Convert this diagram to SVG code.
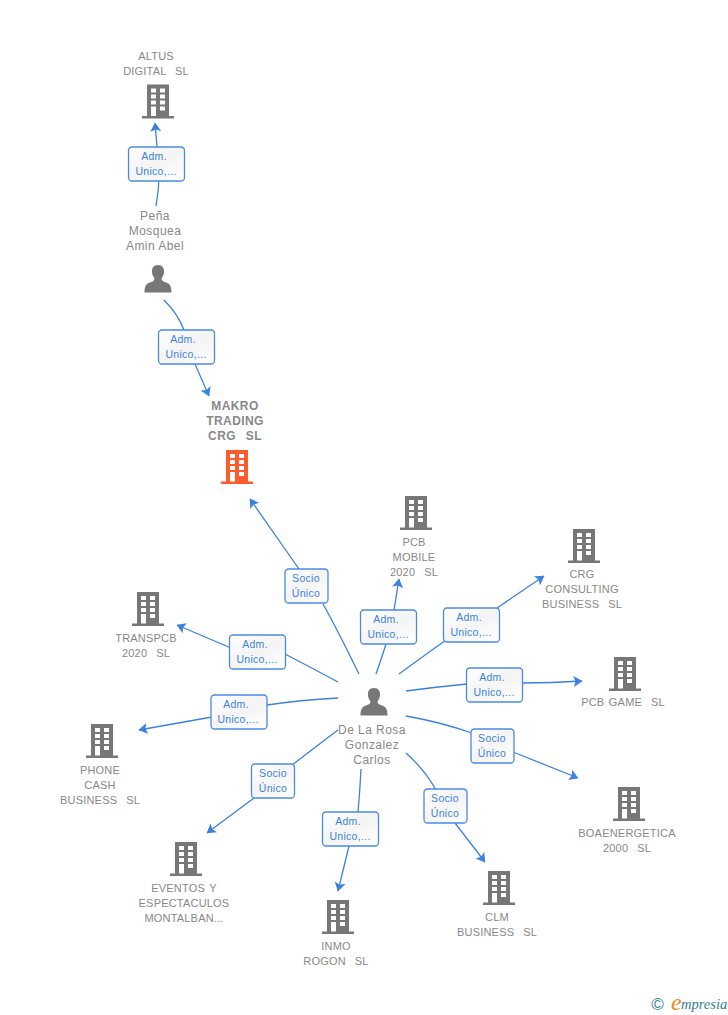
<svg xmlns="http://www.w3.org/2000/svg" width="728" height="1015" viewBox="0 0 728 1015">
<style>
text{font-family:"Liberation Sans",Arial,sans-serif;white-space:pre}
.n{font-size:11px;fill:#888;text-anchor:middle;letter-spacing:.2px;word-spacing:1.200px}
.p{font-size:12px;letter-spacing:.45px;word-spacing:0}
.b{font-weight:bold;font-size:12px;letter-spacing:.4px}
.l{font-size:10.500px;fill:#3b82e0;text-anchor:middle;letter-spacing:.3px}
.e{fill:none;stroke:#3b82e0;stroke-width:1.300}
.box{fill:url(#g);stroke:#4a8ae0;stroke-width:1.300}
</style>
<defs>
<linearGradient id="g" x1="0" y1="0" x2="1" y2="1"><stop offset="0" stop-color="#fff"/><stop offset=".5" stop-color="#f4f4f4"/><stop offset="1" stop-color="#fff"/></linearGradient>
<marker id="a" viewBox="0 0 9 11" refX="8.500" refY="5.500" markerWidth="9" markerHeight="11" markerUnits="userSpaceOnUse" orient="auto"><path d="M0 0L9 5.500L0 11L2 5.500Z" fill="#3b82e0"/></marker>
<g id="bld"><path fill-rule="evenodd" d="M-11-17H11V14.500H16V17H-16V14.500H-11ZM-7-13V-9H-2V-13ZM2-13V-9H7V-13ZM-7-7V-3H-2V-7ZM2-7V-3H7V-7ZM-7-1V3H-2V-1ZM2-1V3H7V-1ZM-7 5V14.500H-2V5ZM2 5V9H7V5Z"/></g>
<g id="per"><path d="M0-14C4.500-14 6.500-10.500 6-6.500C5.700-3.500 4.500-2 3.500-0.500C3.500 1.500 5 2.500 8 3.500C12 5 13.500 7 13.500 13.500H-13.500C-13.500 7-12 5-8 3.500C-5 2.500-3.500 1.500-3.500-0.500C-4.500-2-5.700-3.500-6-6.500C-6.500-10.500-4.500-14 0-14Z"/></g>
</defs>
<g id="connectors">
<path class="e" d="M156 206Q159 190 159 175" />
<path class="e" d="M157 147L155 123" marker-end="url(#a)"/>
<path class="e" d="M164 300Q178 314 184 330"/>
<path class="e" d="M195 364L209 396" marker-end="url(#a)"/>
<path class="e" d="M359 674Q335 625 323 604"/>
<path class="e" d="M299 569L250 499" marker-end="url(#a)"/>
<path class="e" d="M376 674Q381 660 386 644"/>
<path class="e" d="M394 610L399 579" marker-end="url(#a)"/>
<path class="e" d="M399 674Q425 655 446 640"/>
<path class="e" d="M497 608L544 576" marker-end="url(#a)"/>
<path class="e" d="M406 691Q436 687 467 684"/>
<path class="e" d="M522 683Q552 683 582 681" marker-end="url(#a)"/>
<path class="e" d="M406 716Q440 722 472 733"/>
<path class="e" d="M513 752L578 778" marker-end="url(#a)"/>
<path class="e" d="M406 753Q425 770 436 790"/>
<path class="e" d="M455 823L485 862" marker-end="url(#a)"/>
<path class="e" d="M361 769Q360 790 358 812"/>
<path class="e" d="M349 846L338 891" marker-end="url(#a)"/>
<path class="e" d="M338 730Q305 755 283 772"/>
<path class="e" d="M254 798L207 833" marker-end="url(#a)"/>
<path class="e" d="M338 698Q300 700 267 705"/>
<path class="e" d="M212 717L139 730" marker-end="url(#a)"/>
<path class="e" d="M338 682Q312 668 285 654"/>
<path class="e" d="M231 648L177 625" marker-end="url(#a)"/>
</g>
<g id="n1" fill="#777"><use href="#bld" x="158" y="101.500"/><text class="n" x="156" y="60">ALTUS</text><text class="n" x="156" y="75">DIGITAL  SL</text></g>
<g id="n2" fill="#777"><use href="#per" x="158" y="279"/><text class="n p" x="155" y="220">Peña</text><text class="n p" x="155" y="235">Mosquea</text><text class="n p" x="155" y="250">Amin Abel</text></g>
<g id="n3" fill="#ff5c2e"><use href="#bld" x="237" y="467"/><text class="n b" x="235" y="410">MAKRO</text><text class="n b" x="235" y="425">TRADING</text><text class="n b" x="235" y="440">CRG  SL</text></g>
<g id="n4" fill="#777"><use href="#bld" x="416" y="513"/><text class="n" x="414" y="546">PCB</text><text class="n" x="414" y="561">MOBILE</text><text class="n" x="414" y="576">2020  SL</text></g>
<g id="n5" fill="#777"><use href="#bld" x="584" y="546"/><text class="n" x="582" y="578">CRG</text><text class="n" x="582" y="593">CONSULTING</text><text class="n" x="582" y="608">BUSINESS  SL</text></g>
<g id="n6" fill="#777"><use href="#bld" x="625" y="674"/><text class="n" x="623" y="706">PCB GAME  SL</text></g>
<g id="n7" fill="#777"><use href="#bld" x="629" y="804"/><text class="n" x="627" y="837">BOAENERGETICA</text><text class="n" x="627" y="852">2000  SL</text></g>
<g id="n8" fill="#777"><use href="#bld" x="499" y="888"/><text class="n" x="497" y="921">CLM</text><text class="n" x="497" y="936">BUSINESS  SL</text></g>
<g id="n9" fill="#777"><use href="#bld" x="338" y="917"/><text class="n" x="336" y="950">INMO</text><text class="n" x="336" y="965">ROGON  SL</text></g>
<g id="n10" fill="#777"><use href="#bld" x="186" y="859"/><text class="n" x="184" y="892">EVENTOS Y</text><text class="n" x="184" y="907">ESPECTACULOS</text><text class="n" x="184" y="922">MONTALBAN...</text></g>
<g id="n11" fill="#777"><use href="#bld" x="102" y="741"/><text class="n" x="100" y="774">PHONE</text><text class="n" x="100" y="789">CASH</text><text class="n" x="100" y="804">BUSINESS  SL</text></g>
<g id="n12" fill="#777"><use href="#bld" x="148" y="609"/><text class="n" x="146" y="642">TRANSPCB</text><text class="n" x="146" y="657">2020  SL</text></g>
<g id="n13" fill="#777"><use href="#per" x="374" y="702"/><text class="n p" x="372" y="734">De La Rosa</text><text class="n p" x="372" y="749">Gonzalez</text><text class="n p" x="372" y="764">Carlos</text></g>
<g id="labels">
<g id="l1"><rect class="box" x="128.500" y="147" width="56" height="34" rx="3.500"/><text class="l" x="154" y="160">Adm.</text><text class="l" x="156" y="175">Unico,...</text></g>
<g id="l2"><rect class="box" x="158.500" y="330" width="56" height="34" rx="3.500"/><text class="l" x="183" y="343">Adm.</text><text class="l" x="186" y="358">Unico,...</text></g>
<g id="l3"><rect class="box" x="285" y="569" width="43" height="34" rx="3.500"/><text class="l" x="306" y="582">Socio</text><text class="l" x="306" y="597">Único</text></g>
<g id="l4"><rect class="box" x="360.500" y="610" width="56" height="34" rx="3.500"/><text class="l" x="386" y="623">Adm.</text><text class="l" x="388" y="638">Unico,...</text></g>
<g id="l5"><rect class="box" x="443.500" y="608" width="56" height="34" rx="3.500"/><text class="l" x="469" y="621">Adm.</text><text class="l" x="471" y="636">Unico,...</text></g>
<g id="l6"><rect class="box" x="466.500" y="668" width="56" height="34" rx="3.500"/><text class="l" x="492" y="681">Adm.</text><text class="l" x="494" y="696">Unico,...</text></g>
<g id="l7"><rect class="box" x="471" y="729" width="43" height="34" rx="3.500"/><text class="l" x="492" y="742">Socio</text><text class="l" x="492" y="757">Único</text></g>
<g id="l8"><rect class="box" x="424" y="789" width="43" height="34" rx="3.500"/><text class="l" x="445" y="802">Socio</text><text class="l" x="445" y="817">Único</text></g>
<g id="l9"><rect class="box" x="322.500" y="812" width="56" height="34" rx="3.500"/><text class="l" x="348" y="825">Adm.</text><text class="l" x="350" y="840">Unico,...</text></g>
<g id="l10"><rect class="box" x="251.500" y="764" width="43" height="34" rx="3.500"/><text class="l" x="273" y="777">Socio</text><text class="l" x="273" y="792">Único</text></g>
<g id="l11"><rect class="box" x="211" y="695" width="56" height="34" rx="3.500"/><text class="l" x="236" y="708">Adm.</text><text class="l" x="238" y="723">Unico,...</text></g>
<g id="l12"><rect class="box" x="229.500" y="635" width="56" height="34" rx="3.500"/><text class="l" x="255" y="648">Adm.</text><text class="l" x="257" y="663">Unico,...</text></g>
</g>
<g id="logo"><text x="657.500" y="1010" font-size="17" fill="#3a7f96" text-anchor="middle">©</text><text x="671" y="1010" font-size="24" fill="#f08a1d" font-style="italic" style="font-family:'Liberation Serif',serif">e</text><text x="681" y="1009" font-size="14.500" fill="#2f7f96" font-style="italic" style="font-family:'Liberation Serif',serif">mpresia</text></g>
</svg>
